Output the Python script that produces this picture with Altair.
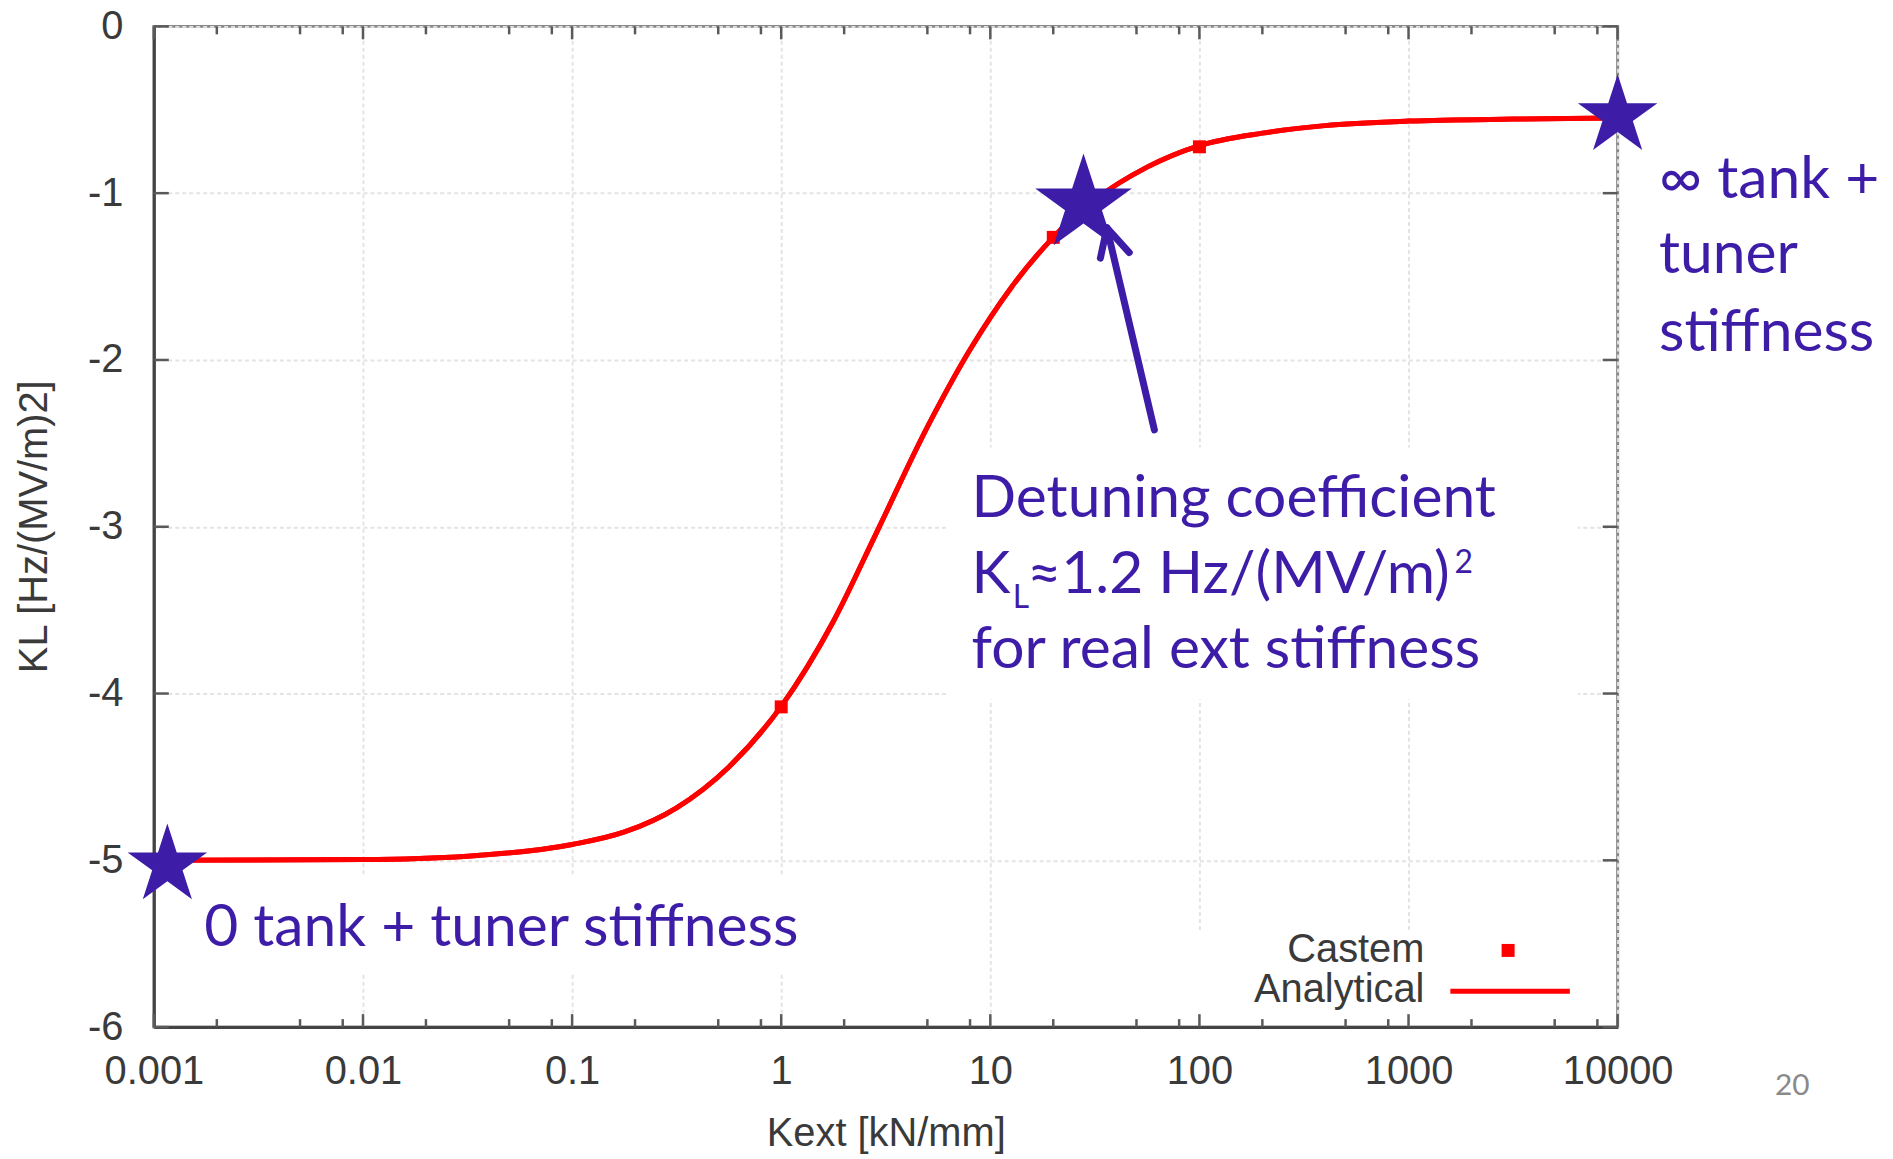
import altair as alt
import pandas as pd

# ---------------- data ----------------
kext = [0.001, 0.01, 0.0316, 0.1, 0.178, 0.316, 0.562, 1, 1.78, 2.82, 5.01, 7.94,
        12.6, 20, 31.6, 56.2, 100, 200, 398, 1000, 3162, 10000]
kl = [-5.0, -4.995, -4.975, -4.905, -4.83, -4.685, -4.44, -4.077, -3.565, -3.05,
      -2.40, -1.945, -1.565, -1.265, -1.04, -0.844, -0.715, -0.64, -0.595, -0.568,
      -0.556, -0.55]

castem_k = [1, 20, 100]
castem_kl = [-4.08, -1.265, -0.722]

star_small_k = [0.00116, 10000]
star_small_kl = [-5.03, -0.538]
star_big_k = [27.9]
star_big_kl = [-1.066]

arrow_tail_k, arrow_tail_kl = [60.9], [-2.419]
arrow_tip_k, arrow_tip_kl = [36.1, 36.1], [-1.208, -1.208]
arrow_arm_k, arrow_arm_kl = [33.6, 46.2], [-1.390, -1.356]

x_ticks = [0.001, 0.01, 0.1, 1, 10, 100, 1000, 10000]
x_minor_mult = [2, 5, 8]
y_ticks = [-6, -5, -4, -3, -2, -1, 0]

ann_text = ["0 tank + tuner stiffness", "\u221e tank +", "tuner", "stiffness",
            "Detuning coefficient", "K", "\u22481.2 Hz/(MV/m)", "for real ext stiffness"]
ann_k = [0.00174, 15760, 15760, 15760, 8.13, 8.13, 15.0, 8.13]
ann_kl = [-5.516, -1.031, -1.479, -1.946, -2.943, -3.397, -3.397, -3.845]
small_text = ["L", "2"]
small_k = [12.8, 1660]
small_kl = [-3.487, -3.278]

legend_labels = ["Castem", "Analytical"]

# ---------------- styling ----------------
W, H = 1470, 1005
PURPLE = "#3d1ca8"
RED = "#ff0000"
AXFONT = "Liberation Sans"
ANNFONT = "Lato"
STAR = ("M0,-1L0.2245,-0.309L0.951,-0.309L0.363,0.118L0.588,0.809L0,0.382"
        "L-0.588,0.809L-0.363,0.118L-0.951,-0.309L-0.2245,-0.309Z")

xs = alt.Scale(type="log", domain=[0.001, 10000], nice=False)
ys = alt.Scale(domain=[-6, 0], nice=False, zero=False)

x_axis = alt.Axis(values=x_ticks, labelExpr="'' + datum.value", title="Kext [kN/mm]",
                  grid=True, gridColor="#e4e4e4", gridDash=[4, 3], gridWidth=2,
                  ticks=False, tickSize=0, domainColor="#444444", domainWidth=3,
                  labelFont=AXFONT, labelFontSize=40, labelColor="#3a3a3a",
                  labelPadding=25, labelFlush=False, labelOverlap=False,
                  titleFont=AXFONT, titleFontSize=40, titleFontWeight="normal",
                  titleColor="#3a3a3a", titleX=735, titleY=119,
                  titleBaseline="alphabetic", titleAlign="center")
y_axis = alt.Axis(values=y_ticks, labelExpr="'' + datum.value",
                  title="KL [Hz/(MV/m)2]",
                  grid=True, gridColor="#e4e4e4", gridDash=[4, 3], gridWidth=2,
                  ticks=False, tickSize=0, domainColor="#444444", domainWidth=3,
                  labelFont=AXFONT, labelFontSize=40, labelColor="#3a3a3a",
                  labelPadding=31, labelFlush=False, labelOverlap=False,
                  labelBaseline="middle",
                  titleFont=AXFONT, titleFontSize=40, titleFontWeight="normal",
                  titleColor="#3a3a3a", titleAngle=270, titleX=-108, titleY=502,
                  titleBaseline="alphabetic", titleAlign="center")

one = pd.DataFrame({"a": [0]})

# ---------------- layers ----------------
curve_df = pd.DataFrame({"x": kext, "y": kl})
curve = alt.Chart(curve_df).mark_line(color=RED, strokeWidth=5, interpolate="monotone").encode(
    x=alt.X("x:Q", scale=xs, axis=x_axis),
    y=alt.Y("y:Q", scale=ys, axis=y_axis),
)

def box(x1, x2, y1, y2):
    return alt.Chart(one).mark_rect(color="white").encode(
        x=alt.value(x1), x2=alt.value(x2), y=alt.value(y1), y2=alt.value(y2))

boxes = [box(40, 646, 854, 951), box(798, 1430, 423, 676), box(1035, 1456, 909, 998)]

xmaj = pd.DataFrame({"x": x_ticks})
xmin = pd.DataFrame({"x": [m * d for d in x_ticks[:-1] for m in x_minor_mult]})
ydf = pd.DataFrame({"y": y_ticks})
TICKC = "#5a5a5a"

def xtick(df, y1, y2):
    return alt.Chart(df).mark_rule(color=TICKC, strokeWidth=2.5).encode(
        x=alt.X("x:Q", scale=xs), y=alt.value(y1), y2=alt.value(y2))

def ytick(x1, x2):
    return alt.Chart(ydf).mark_rule(color=TICKC, strokeWidth=2.5).encode(
        y=alt.Y("y:Q", scale=ys), x=alt.value(x1), x2=alt.value(x2))

ticks = [xtick(xmaj, H, H - 13), xtick(xmin, H, H - 8), xtick(xmaj, 0, 13), xtick(xmin, 0, 8),
         ytick(0, 15), ytick(W, W - 15)]

castem = alt.Chart(pd.DataFrame({"x": castem_k, "y": castem_kl})).mark_square(
    color=RED, size=170, opacity=1).encode(x=alt.X("x:Q", scale=xs), y=alt.Y("y:Q", scale=ys))

shaft = alt.Chart(pd.DataFrame({"x": arrow_tail_k, "y": arrow_tail_kl,
                                "x2": arrow_tip_k[:1], "y2": arrow_tip_kl[:1]})).mark_rule(
    color=PURPLE, strokeWidth=7, strokeCap="round").encode(
    x=alt.X("x:Q", scale=xs), y=alt.Y("y:Q", scale=ys), x2="x2:Q", y2="y2:Q")
head = alt.Chart(pd.DataFrame({"x": arrow_tip_k, "y": arrow_tip_kl,
                               "x2": arrow_arm_k, "y2": arrow_arm_kl})).mark_rule(
    color=PURPLE, strokeWidth=7, strokeCap="round").encode(
    x=alt.X("x:Q", scale=xs), y=alt.Y("y:Q", scale=ys), x2="x2:Q", y2="y2:Q")

stars_small = alt.Chart(pd.DataFrame({"x": star_small_k, "y": star_small_kl})).mark_point(
    shape=STAR, filled=True, color=PURPLE, opacity=1, size=7056, strokeWidth=0).encode(
    x=alt.X("x:Q", scale=xs), y=alt.Y("y:Q", scale=ys))
star_big = alt.Chart(pd.DataFrame({"x": star_big_k, "y": star_big_kl})).mark_point(
    shape=STAR, filled=True, color=PURPLE, opacity=1, size=10400, strokeWidth=0).encode(
    x=alt.X("x:Q", scale=xs), y=alt.Y("y:Q", scale=ys))

ann = alt.Chart(pd.DataFrame({"x": ann_k, "y": ann_kl, "t": ann_text})).mark_text(
    font=ANNFONT, fontSize=59, color=PURPLE, align="left", baseline="alphabetic").encode(
    x=alt.X("x:Q", scale=xs), y=alt.Y("y:Q", scale=ys), text="t:N")
ann_small = alt.Chart(pd.DataFrame({"x": small_k, "y": small_kl, "t": small_text})).mark_text(
    font=ANNFONT, fontSize=32, color=PURPLE, align="left", baseline="alphabetic").encode(
    x=alt.X("x:Q", scale=xs), y=alt.Y("y:Q", scale=ys), text="t:N")

def legtext(label, y):
    return alt.Chart(one).mark_text(font=AXFONT, fontSize=40, color="#3a3a3a", align="right",
                                    baseline="middle", text=label).encode(
        x=alt.value(1276), y=alt.value(y))

legend = [legtext(legend_labels[0], 928), legtext(legend_labels[1], 968),
          alt.Chart(one).mark_square(color=RED, size=170, opacity=1).encode(
              x=alt.value(1360), y=alt.value(928)),
          alt.Chart(one).mark_rule(color=RED, strokeWidth=5).encode(
              x=alt.value(1302), x2=alt.value(1422), y=alt.value(969))]

pagenum = alt.Chart(one).mark_text(font=ANNFONT, fontSize=30, color="#8a8a8a", align="left",
                                   baseline="alphabetic", text="20").encode(
    x=alt.value(1628), y=alt.value(1073))

chart = alt.layer(curve, *boxes, *ticks, curve, castem, shaft, head, stars_small, star_big,
                  ann, ann_small, *legend, pagenum).properties(
    width=W, height=H,
    autosize=alt.AutoSizeParams(type="none"),
    padding={"left": 146.5, "top": 16, "right": 268.5, "bottom": 130},
).configure_view(stroke="#888888", strokeWidth=3)

chart.save("out.html", embed_options={"renderer": "svg", "actions": False})
